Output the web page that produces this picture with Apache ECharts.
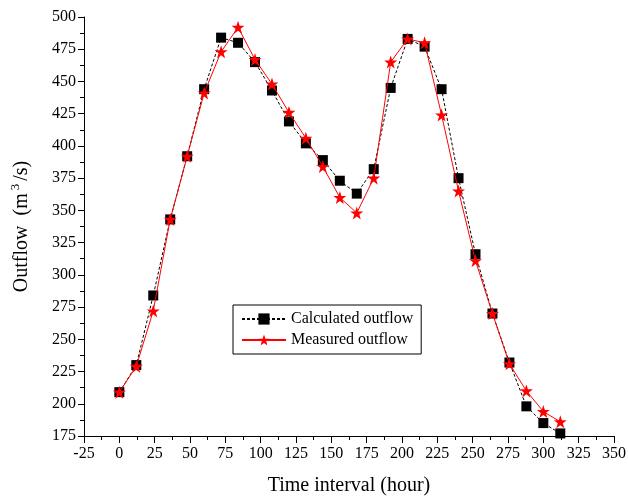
<!DOCTYPE html>
<html>
<head>
<meta charset="utf-8">
<script src="https://cdn.jsdelivr.net/npm/echarts@6/dist/echarts.min.js"></script>
<style>
html, body { margin: 0; padding: 0; background: #fff; }
#main { width: 628px; height: 500px; }
</style>
</head>
<body>
<div id="main"></div>
<script>
// time (hour)
var hours = [0, 12, 24, 36, 48, 60, 72, 84, 96, 108, 120, 132, 144, 156, 168, 180, 192, 204, 216, 228, 240, 252, 264, 276, 288, 300, 312];
var calculated = [209, 230, 284, 343, 392, 444, 484, 480, 465, 443, 419, 402, 389, 373, 363, 382, 445, 483, 477, 444, 375, 316, 270, 232, 198, 185, 177];
var measured = [209, 229, 272, 343, 392, 441, 473, 492, 467, 448, 426, 406, 384, 360, 348, 375, 465, 483, 480, 424, 365, 311, 270, 231, 210, 194, 186];

function pairs(xs, ys) {
  return xs.map(function (x, i) { return [x, ys[i]]; });
}

var starPath = 'path://M50,0 L61.8,35.1 L98.9,35.1 L69,56.9 L80.3,91.9 L50,70.2 L19.7,91.9 L31,56.9 L1.1,35.1 L38.2,35.1 Z';
var font = '"Liberation Serif", "Times New Roman", serif';

var myChart = echarts.init(document.getElementById('main'));
var option = {
  animation: false,
  textStyle: { fontFamily: font, color: '#000' },
  grid: { left: 84, right: 14, top: 17, bottom: 64, containLabel: false, outerBoundsMode: 'none' },
  legend: {
    orient: 'vertical',
    left: 233,
    top: 305,
    borderColor: '#000',
    borderWidth: 1,
    padding: [6, 8, 6, 8],
    itemGap: 5,
    itemWidth: 44,
    itemHeight: 14,
    textStyle: { fontFamily: font, fontSize: 16, color: '#000' },
    data: ['Calculated outflow', 'Measured outflow']
  },
  xAxis: {
    type: 'value',
    min: -25,
    max: 350,
    interval: 25,
    name: 'Time interval (hour)',
    nameLocation: 'middle',
    nameGap: 40,
    nameTextStyle: { fontFamily: font, fontSize: 20, color: '#000' },
    axisLine: { onZero: false, lineStyle: { color: '#000', width: 1 } },
    axisTick: { show: true, inside: false, length: 7, lineStyle: { color: '#000' } },
    minorTick: { show: true, splitNumber: 2, length: 4, lineStyle: { color: '#000' } },
    axisLabel: { fontFamily: font, fontSize: 16, color: '#000', margin: 10 },
    splitLine: { show: false }
  },
  yAxis: {
    type: 'value',
    min: 175,
    max: 500,
    interval: 25,
    name: 'Outflow  (m{sup|3}/s)',
    nameLocation: 'middle',
    nameGap: 50,
    nameTextStyle: {
      fontFamily: font, fontSize: 20, color: '#000',
      rich: {
        sup: { fontFamily: font, fontSize: 13, color: '#000', padding: [0, 3, 12, 3] }
      }
    },
    axisLine: { show: true, onZero: false, lineStyle: { color: '#000', width: 1 } },
    axisTick: { show: true, inside: false, length: 6, lineStyle: { color: '#000' } },
    minorTick: { show: true, splitNumber: 2, length: 4, lineStyle: { color: '#000' } },
    axisLabel: { fontFamily: font, fontSize: 16, color: '#000', margin: 8 },
    splitLine: { show: false }
  },
  series: [
    {
      name: 'Calculated outflow',
      type: 'line',
      data: pairs(hours, calculated),
      symbol: 'rect',
      symbolSize: 10,
      color: '#000',
      itemStyle: { color: '#000' },
      lineStyle: { color: '#000', width: 1, type: [3, 2] },
      z: 2
    },
    {
      name: 'Measured outflow',
      type: 'line',
      data: pairs(hours, measured),
      symbol: starPath,
      symbolSize: 13,
      color: '#ff0000',
      itemStyle: { color: '#ff0000' },
      lineStyle: { color: '#ff0000', width: 1 },
      z: 3
    }
  ]
};
myChart.setOption(option);
</script>
</body>
</html>
